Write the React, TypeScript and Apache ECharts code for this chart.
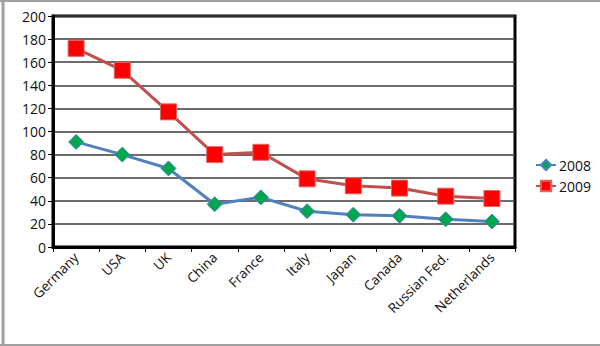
import React, { useEffect, useRef } from "react";
import * as echarts from "echarts";

const categories = ["Germany", "USA", "UK", "China", "France", "Italy", "Japan", "Canada", "Russian Fed.", "Netherlands"];
const values2008 = [91, 80, 68, 37, 43, 31, 28, 27, 24, 22];
const values2009 = [172, 153, 117, 80, 82, 59, 53, 51, 44, 42];
const seriesNames = ["2008", "2009"];

const FONT = "'Open Sans', 'DejaVu Sans', sans-serif";

export default function App() {
  const ref = useRef<HTMLDivElement>(null);
  useEffect(() => {
    if (!ref.current) return;
    const chart = echarts.init(ref.current, undefined, { renderer: "svg" });
    chart.setOption({
      animation: false,
      backgroundColor: "#ffffff",
      grid: {
        left: 53,
        top: 16,
        right: 85,
        bottom: 99,
        show: true,
        borderColor: "#000000",
        borderWidth: 3,
      },
      legend: {
        orient: "vertical",
        left: 530,
        top: 153,
        itemWidth: 20,
        itemHeight: 13,
        itemGap: 7,
        textStyle: { fontFamily: FONT, fontSize: 14, color: "#111", padding: [0, 0, 0, -2] },
        data: seriesNames,
      },
      xAxis: {
        type: "category",
        data: categories,
        boundaryGap: true,
        axisLine: { show: true, lineStyle: { color: "#000", width: 3 } },
        axisTick: { show: true, inside: false, length: 5, lineStyle: { color: "#000", width: 1 } },
        axisLabel: {
          rotate: 45,
          interval: 0,
          fontFamily: FONT,
          fontSize: 13.5,
          color: "#111",
          margin: 8,
        },
        splitLine: { show: false },
      },
      yAxis: {
        type: "value",
        min: 0,
        max: 200,
        interval: 20,
        axisLine: { show: true, lineStyle: { color: "#000", width: 3 } },
        axisTick: { show: true, length: 5, lineStyle: { color: "#000", width: 1 } },
        axisLabel: { fontFamily: FONT, fontSize: 14, color: "#111", margin: 7 },
        splitLine: { show: true, lineStyle: { color: "#3a3a3a", width: 1.5 } },
      },
      series: [
        {
          name: seriesNames[0],
          type: "line",
          data: values2008,
          symbol: "diamond",
          symbolSize: 15,
          lineStyle: { color: "#4f81bd", width: 3 },
          itemStyle: { color: "#00a650", borderColor: "#4f81bd", borderWidth: 1 },
          z: 3,
        },
        {
          name: seriesNames[1],
          type: "line",
          data: values2009,
          symbol: "rect",
          symbolSize: 16,
          lineStyle: { color: "#c0504d", width: 3 },
          itemStyle: { color: "#ff0000", borderColor: "#e06666", borderWidth: 1 },
          z: 4,
        },
      ],
      graphic: [
        { type: "line", shape: { x1: 0, y1: 1, x2: 600, y2: 1 }, style: { stroke: "#a0a0a0", lineWidth: 2 } },
        { type: "line", shape: { x1: 3, y1: 0, x2: 3, y2: 346 }, style: { stroke: "#a0a0a0", lineWidth: 3 } },
        { type: "line", shape: { x1: 0, y1: 345, x2: 600, y2: 345 }, style: { stroke: "#a0a0a0", lineWidth: 2 } },
      ],
    });
    return () => chart.dispose();
  }, []);
  return (
    <div
      ref={ref}
      style={{ position: "fixed", left: 0, top: 0, width: 600, height: 346, background: "#fff" }}
    />
  );
}
